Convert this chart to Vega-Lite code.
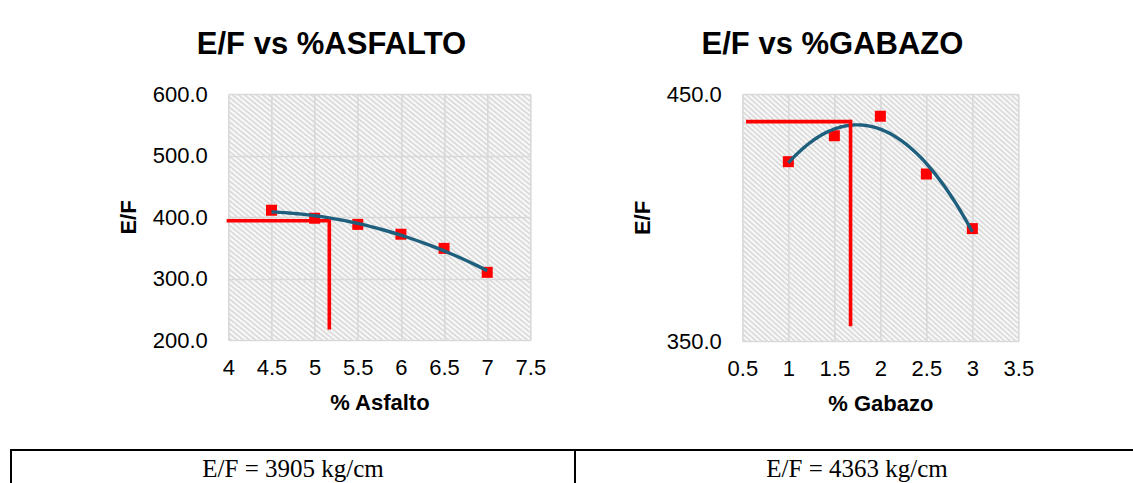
{
  "$schema": "https://vega.github.io/schema/vega-lite/v6.json",
  "background": "white",
  "padding": {"left": 10, "top": 29, "right": 0, "bottom": 0},
  "datasets": {
    "asfalto": [
      {"pct": 4.5, "ef": 411},
      {"pct": 5, "ef": 398},
      {"pct": 5.5, "ef": 388},
      {"pct": 6, "ef": 372},
      {"pct": 6.5, "ef": 349},
      {"pct": 7, "ef": 310}
    ],
    "optimo_asfalto": [
      {"pct": 3.98, "pct_fin": 5.17, "ef": 394, "ef_fin": 394},
      {"pct": 5.17, "pct_fin": 5.17, "ef": 395.8, "ef_fin": 217}
    ],
    "gabazo": [
      {"pct": 1, "ef": 422.6},
      {"pct": 1.5, "ef": 433.1},
      {"pct": 2, "ef": 441},
      {"pct": 2.5, "ef": 417.6},
      {"pct": 3, "ef": 395.5}
    ],
    "optimo_gabazo": [
      {"pct": 0.54, "pct_fin": 1.676, "ef": 438.8, "ef_fin": 438.8},
      {"pct": 1.676, "pct_fin": 1.676, "ef": 439.6, "ef_fin": 356}
    ],
    "resultados": [
      {"material": "Asfalto", "texto": "E/F = 3905 kg/cm"},
      {"material": "Gabazo", "texto": "E/F = 4363 kg/cm"}
    ]
  },
  "spacing": 35,
  "center": true,
  "vconcat": [
    {
      "spacing": 84,
      "hconcat": [
        {
          "width": 302,
          "height": 246,
          "title": "E/F vs %ASFALTO",
          "encoding": {
            "x": {
              "field": "pct",
              "type": "quantitative",
              "scale": {"domain": [4, 7.5], "nice": false, "zero": false},
              "axis": {"title": "% Asfalto", "values": [4, 4.5, 5, 5.5, 6, 6.5, 7, 7.5], "format": "~g"}
            },
            "y": {
              "field": "ef",
              "type": "quantitative",
              "scale": {"domain": [200, 600], "nice": false, "zero": false},
              "axis": {"title": "E/F", "values": [200, 300, 400, 500, 600], "format": ".1f"}
            }
          },
          "layer": [
            {
              "data": {"name": "asfalto"},
              "mark": {"type": "point", "shape": "square", "filled": true, "size": 121, "color": "#FF0000", "opacity": 1}
            },
            {
              "data": {"name": "asfalto"},
              "transform": [{"regression": "ef", "on": "pct", "method": "poly", "order": 2}],
              "mark": {"type": "line", "color": "#1F5F7E", "strokeWidth": 3.4}
            },
            {
              "data": {"name": "optimo_asfalto"},
              "mark": {"type": "rule", "color": "#FF0000", "strokeWidth": 3.6, "clip": false},
              "encoding": {"x2": {"field": "pct_fin"}, "y2": {"field": "ef_fin"}}
            }
          ]
        },
        {
          "width": 276,
          "height": 247,
          "title": "E/F vs %GABAZO",
          "encoding": {
            "x": {
              "field": "pct",
              "type": "quantitative",
              "scale": {"domain": [0.5, 3.5], "nice": false, "zero": false},
              "axis": {"title": "% Gabazo", "values": [0.5, 1, 1.5, 2, 2.5, 3, 3.5], "format": "~g"}
            },
            "y": {
              "field": "ef",
              "type": "quantitative",
              "scale": {"domain": [350, 450], "nice": false, "zero": false},
              "axis": {"title": "E/F", "values": [350, 450], "format": ".1f"}
            }
          },
          "layer": [
            {
              "data": {"name": "gabazo"},
              "mark": {"type": "point", "shape": "square", "filled": true, "size": 121, "color": "#FF0000", "opacity": 1}
            },
            {
              "data": {"name": "gabazo"},
              "transform": [{"regression": "ef", "on": "pct", "method": "poly", "order": 2}],
              "mark": {"type": "line", "color": "#1F5F7E", "strokeWidth": 3.4}
            },
            {
              "data": {"name": "optimo_gabazo"},
              "mark": {"type": "rule", "color": "#FF0000", "strokeWidth": 3.6},
              "encoding": {"x2": {"field": "pct_fin"}, "y2": {"field": "ef_fin"}}
            }
          ]
        }
      ]
    },
    {
      "width": 1240,
      "height": 40,
      "view": {"fill": null, "stroke": null},
      "data": {"name": "resultados"},
      "encoding": {
        "x": {
          "field": "material",
          "type": "nominal",
          "axis": null,
          "scale": {"type": "band", "paddingInner": 0, "paddingOuter": 0.0993, "align": 0}
        }
      },
      "layer": [
        {"mark": {"type": "rect", "fill": null, "stroke": "#000000", "strokeWidth": 2}},
        {
          "mark": {"type": "text", "font": "Liberation Serif", "fontSize": 25, "color": "#000000", "baseline": "alphabetic", "dy": 7},
          "encoding": {"text": {"field": "texto"}}
        }
      ]
    }
  ],
  "config": {
    "view": {
      "stroke": null,
      "fill": {
        "gradient": "linear",
        "x1": 0, "y1": 1, "x2": 1, "y2": 0,
        "stops": [
          {"offset": 0, "color": "#fff"}, {"offset": 0.005, "color": "#d6d6d6"},
          {"offset": 0.01, "color": "#fff"}, {"offset": 0.015, "color": "#d6d6d6"},
          {"offset": 0.02, "color": "#fff"}, {"offset": 0.025, "color": "#d6d6d6"},
          {"offset": 0.03, "color": "#fff"}, {"offset": 0.035, "color": "#d6d6d6"},
          {"offset": 0.04, "color": "#fff"}, {"offset": 0.045, "color": "#d6d6d6"},
          {"offset": 0.05, "color": "#fff"}, {"offset": 0.055, "color": "#d6d6d6"},
          {"offset": 0.06, "color": "#fff"}, {"offset": 0.065, "color": "#d6d6d6"},
          {"offset": 0.07, "color": "#fff"}, {"offset": 0.075, "color": "#d6d6d6"},
          {"offset": 0.08, "color": "#fff"}, {"offset": 0.085, "color": "#d6d6d6"},
          {"offset": 0.09, "color": "#fff"}, {"offset": 0.095, "color": "#d6d6d6"},
          {"offset": 0.1, "color": "#fff"}, {"offset": 0.105, "color": "#d6d6d6"},
          {"offset": 0.11, "color": "#fff"}, {"offset": 0.115, "color": "#d6d6d6"},
          {"offset": 0.12, "color": "#fff"}, {"offset": 0.125, "color": "#d6d6d6"},
          {"offset": 0.13, "color": "#fff"}, {"offset": 0.135, "color": "#d6d6d6"},
          {"offset": 0.14, "color": "#fff"}, {"offset": 0.145, "color": "#d6d6d6"},
          {"offset": 0.15, "color": "#fff"}, {"offset": 0.155, "color": "#d6d6d6"},
          {"offset": 0.16, "color": "#fff"}, {"offset": 0.165, "color": "#d6d6d6"},
          {"offset": 0.17, "color": "#fff"}, {"offset": 0.175, "color": "#d6d6d6"},
          {"offset": 0.18, "color": "#fff"}, {"offset": 0.185, "color": "#d6d6d6"},
          {"offset": 0.19, "color": "#fff"}, {"offset": 0.195, "color": "#d6d6d6"},
          {"offset": 0.2, "color": "#fff"}, {"offset": 0.205, "color": "#d6d6d6"},
          {"offset": 0.21, "color": "#fff"}, {"offset": 0.215, "color": "#d6d6d6"},
          {"offset": 0.22, "color": "#fff"}, {"offset": 0.225, "color": "#d6d6d6"},
          {"offset": 0.23, "color": "#fff"}, {"offset": 0.235, "color": "#d6d6d6"},
          {"offset": 0.24, "color": "#fff"}, {"offset": 0.245, "color": "#d6d6d6"},
          {"offset": 0.25, "color": "#fff"}, {"offset": 0.255, "color": "#d6d6d6"},
          {"offset": 0.26, "color": "#fff"}, {"offset": 0.265, "color": "#d6d6d6"},
          {"offset": 0.27, "color": "#fff"}, {"offset": 0.275, "color": "#d6d6d6"},
          {"offset": 0.28, "color": "#fff"}, {"offset": 0.285, "color": "#d6d6d6"},
          {"offset": 0.29, "color": "#fff"}, {"offset": 0.295, "color": "#d6d6d6"},
          {"offset": 0.3, "color": "#fff"}, {"offset": 0.305, "color": "#d6d6d6"},
          {"offset": 0.31, "color": "#fff"}, {"offset": 0.315, "color": "#d6d6d6"},
          {"offset": 0.32, "color": "#fff"}, {"offset": 0.325, "color": "#d6d6d6"},
          {"offset": 0.33, "color": "#fff"}, {"offset": 0.335, "color": "#d6d6d6"},
          {"offset": 0.34, "color": "#fff"}, {"offset": 0.345, "color": "#d6d6d6"},
          {"offset": 0.35, "color": "#fff"}, {"offset": 0.355, "color": "#d6d6d6"},
          {"offset": 0.36, "color": "#fff"}, {"offset": 0.365, "color": "#d6d6d6"},
          {"offset": 0.37, "color": "#fff"}, {"offset": 0.375, "color": "#d6d6d6"},
          {"offset": 0.38, "color": "#fff"}, {"offset": 0.385, "color": "#d6d6d6"},
          {"offset": 0.39, "color": "#fff"}, {"offset": 0.395, "color": "#d6d6d6"},
          {"offset": 0.4, "color": "#fff"}, {"offset": 0.405, "color": "#d6d6d6"},
          {"offset": 0.41, "color": "#fff"}, {"offset": 0.415, "color": "#d6d6d6"},
          {"offset": 0.42, "color": "#fff"}, {"offset": 0.425, "color": "#d6d6d6"},
          {"offset": 0.43, "color": "#fff"}, {"offset": 0.435, "color": "#d6d6d6"},
          {"offset": 0.44, "color": "#fff"}, {"offset": 0.445, "color": "#d6d6d6"},
          {"offset": 0.45, "color": "#fff"}, {"offset": 0.455, "color": "#d6d6d6"},
          {"offset": 0.46, "color": "#fff"}, {"offset": 0.465, "color": "#d6d6d6"},
          {"offset": 0.47, "color": "#fff"}, {"offset": 0.475, "color": "#d6d6d6"},
          {"offset": 0.48, "color": "#fff"}, {"offset": 0.485, "color": "#d6d6d6"},
          {"offset": 0.49, "color": "#fff"}, {"offset": 0.495, "color": "#d6d6d6"},
          {"offset": 0.5, "color": "#fff"}, {"offset": 0.505, "color": "#d6d6d6"},
          {"offset": 0.51, "color": "#fff"}, {"offset": 0.515, "color": "#d6d6d6"},
          {"offset": 0.52, "color": "#fff"}, {"offset": 0.525, "color": "#d6d6d6"},
          {"offset": 0.53, "color": "#fff"}, {"offset": 0.535, "color": "#d6d6d6"},
          {"offset": 0.54, "color": "#fff"}, {"offset": 0.545, "color": "#d6d6d6"},
          {"offset": 0.55, "color": "#fff"}, {"offset": 0.555, "color": "#d6d6d6"},
          {"offset": 0.56, "color": "#fff"}, {"offset": 0.565, "color": "#d6d6d6"},
          {"offset": 0.57, "color": "#fff"}, {"offset": 0.575, "color": "#d6d6d6"},
          {"offset": 0.58, "color": "#fff"}, {"offset": 0.585, "color": "#d6d6d6"},
          {"offset": 0.59, "color": "#fff"}, {"offset": 0.595, "color": "#d6d6d6"},
          {"offset": 0.6, "color": "#fff"}, {"offset": 0.605, "color": "#d6d6d6"},
          {"offset": 0.61, "color": "#fff"}, {"offset": 0.615, "color": "#d6d6d6"},
          {"offset": 0.62, "color": "#fff"}, {"offset": 0.625, "color": "#d6d6d6"},
          {"offset": 0.63, "color": "#fff"}, {"offset": 0.635, "color": "#d6d6d6"},
          {"offset": 0.64, "color": "#fff"}, {"offset": 0.645, "color": "#d6d6d6"},
          {"offset": 0.65, "color": "#fff"}, {"offset": 0.655, "color": "#d6d6d6"},
          {"offset": 0.66, "color": "#fff"}, {"offset": 0.665, "color": "#d6d6d6"},
          {"offset": 0.67, "color": "#fff"}, {"offset": 0.675, "color": "#d6d6d6"},
          {"offset": 0.68, "color": "#fff"}, {"offset": 0.685, "color": "#d6d6d6"},
          {"offset": 0.69, "color": "#fff"}, {"offset": 0.695, "color": "#d6d6d6"},
          {"offset": 0.7, "color": "#fff"}, {"offset": 0.705, "color": "#d6d6d6"},
          {"offset": 0.71, "color": "#fff"}, {"offset": 0.715, "color": "#d6d6d6"},
          {"offset": 0.72, "color": "#fff"}, {"offset": 0.725, "color": "#d6d6d6"},
          {"offset": 0.73, "color": "#fff"}, {"offset": 0.735, "color": "#d6d6d6"},
          {"offset": 0.74, "color": "#fff"}, {"offset": 0.745, "color": "#d6d6d6"},
          {"offset": 0.75, "color": "#fff"}, {"offset": 0.755, "color": "#d6d6d6"},
          {"offset": 0.76, "color": "#fff"}, {"offset": 0.765, "color": "#d6d6d6"},
          {"offset": 0.77, "color": "#fff"}, {"offset": 0.775, "color": "#d6d6d6"},
          {"offset": 0.78, "color": "#fff"}, {"offset": 0.785, "color": "#d6d6d6"},
          {"offset": 0.79, "color": "#fff"}, {"offset": 0.795, "color": "#d6d6d6"},
          {"offset": 0.8, "color": "#fff"}, {"offset": 0.805, "color": "#d6d6d6"},
          {"offset": 0.81, "color": "#fff"}, {"offset": 0.815, "color": "#d6d6d6"},
          {"offset": 0.82, "color": "#fff"}, {"offset": 0.825, "color": "#d6d6d6"},
          {"offset": 0.83, "color": "#fff"}, {"offset": 0.835, "color": "#d6d6d6"},
          {"offset": 0.84, "color": "#fff"}, {"offset": 0.845, "color": "#d6d6d6"},
          {"offset": 0.85, "color": "#fff"}, {"offset": 0.855, "color": "#d6d6d6"},
          {"offset": 0.86, "color": "#fff"}, {"offset": 0.865, "color": "#d6d6d6"},
          {"offset": 0.87, "color": "#fff"}, {"offset": 0.875, "color": "#d6d6d6"},
          {"offset": 0.88, "color": "#fff"}, {"offset": 0.885, "color": "#d6d6d6"},
          {"offset": 0.89, "color": "#fff"}, {"offset": 0.895, "color": "#d6d6d6"},
          {"offset": 0.9, "color": "#fff"}, {"offset": 0.905, "color": "#d6d6d6"},
          {"offset": 0.91, "color": "#fff"}, {"offset": 0.915, "color": "#d6d6d6"},
          {"offset": 0.92, "color": "#fff"}, {"offset": 0.925, "color": "#d6d6d6"},
          {"offset": 0.93, "color": "#fff"}, {"offset": 0.935, "color": "#d6d6d6"},
          {"offset": 0.94, "color": "#fff"}, {"offset": 0.945, "color": "#d6d6d6"},
          {"offset": 0.95, "color": "#fff"}, {"offset": 0.955, "color": "#d6d6d6"},
          {"offset": 0.96, "color": "#fff"}, {"offset": 0.965, "color": "#d6d6d6"},
          {"offset": 0.97, "color": "#fff"}, {"offset": 0.975, "color": "#d6d6d6"},
          {"offset": 0.98, "color": "#fff"}, {"offset": 0.985, "color": "#d6d6d6"},
          {"offset": 0.99, "color": "#fff"}, {"offset": 0.995, "color": "#d6d6d6"},
          {"offset": 1, "color": "#fff"}
        ]
      }
    },
    "title": {
      "font": "Liberation Sans",
      "fontSize": 31,
      "fontWeight": "bold",
      "color": "#000000",
      "anchor": "middle",
      "frame": "bounds",
      "baseline": "alphabetic",
      "offset": 22
    },
    "axis": {
      "domain": false,
      "ticks": false,
      "grid": true,
      "gridColor": "#d9d9d9",
      "gridWidth": 1.6,
      "labelFont": "Liberation Sans",
      "labelFontSize": 22,
      "labelColor": "#000000",
      "labelFlush": false,
      "labelOverlap": false,
      "titleFont": "Liberation Sans",
      "titleFontSize": 22,
      "titleFontWeight": "bold",
      "titleColor": "#000000"
    },
    "axisX": {"labelPadding": 17, "titlePadding": 14},
    "axisY": {"labelPadding": 21, "titlePadding": 12}
  }
}
